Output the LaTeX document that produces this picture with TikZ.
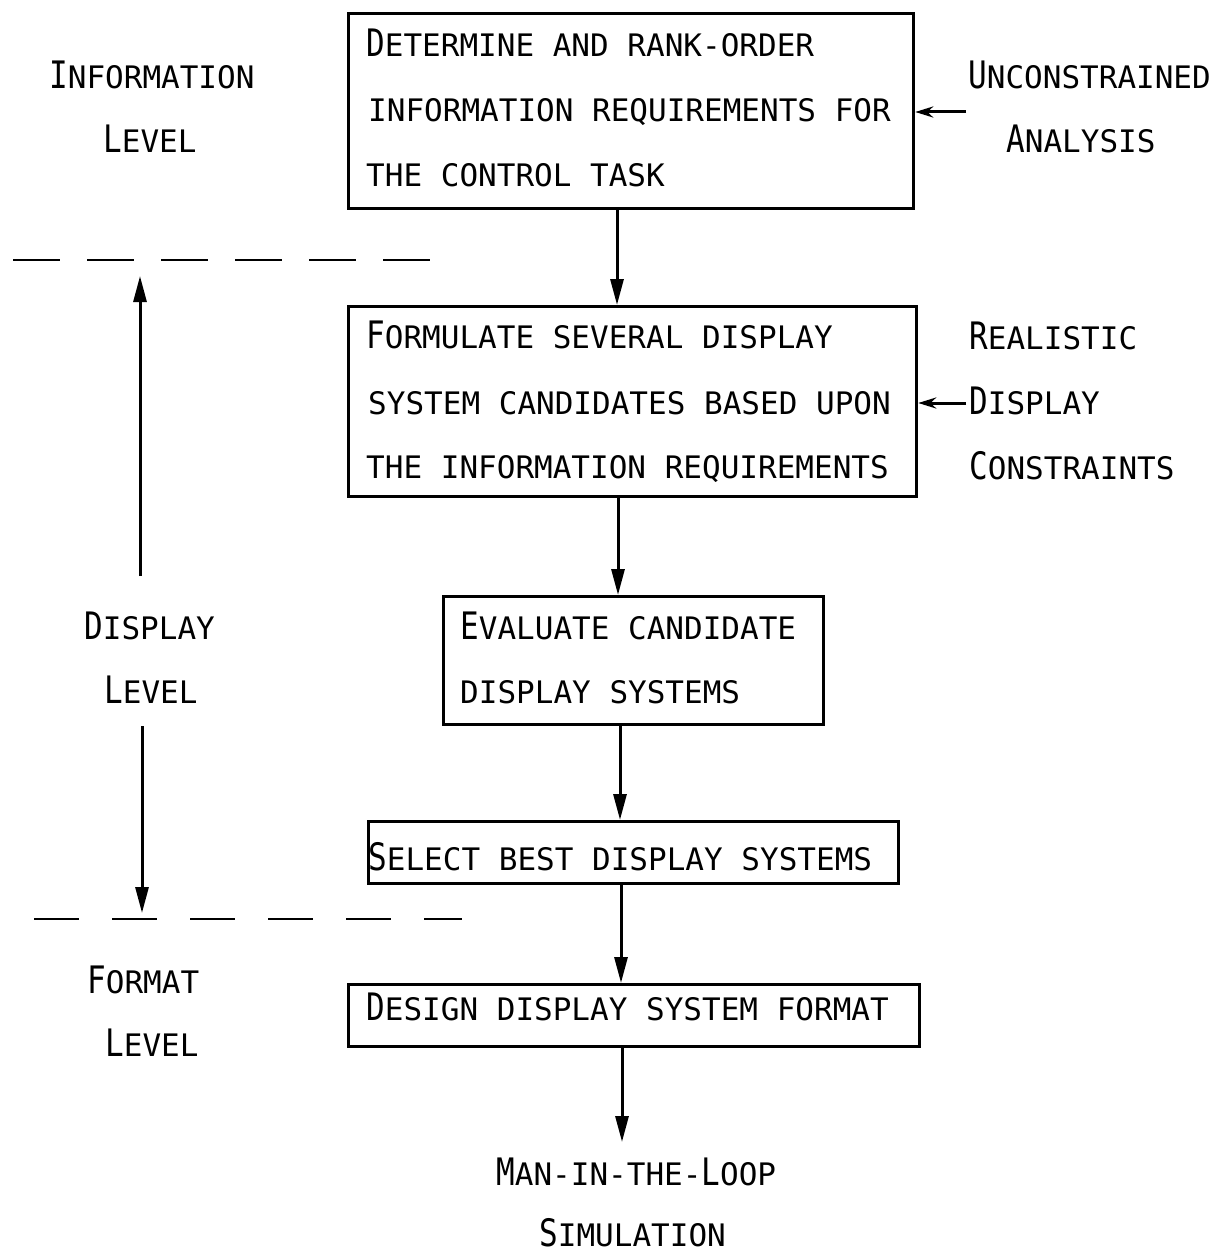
\documentclass[tikz,border=0pt]{standalone}
\usepackage{graphicx}
\usepackage{fontspec}
\setmonofont{DejaVu Sans Mono}
\usetikzlibrary{arrows.meta}
\newcommand{\Bc}[1]{\scalebox{1}[1.22]{#1}}
\begin{document}
\begin{tikzpicture}[x=1pt,y=-1pt,
  font=\fontsize{31}{31}\selectfont\ttfamily,
  box/.style={draw, line width=3.2pt, inner sep=0pt, anchor=north west},
  txt/.style={anchor=base west, inner sep=0pt},
  arr/.style={line width=3pt, -{Triangle[length=26pt,width=13pt]}},
  sarr/.style={line width=3pt, -{Stealth[length=18pt,width=11pt]}},
  dsh/.style={line width=2.6pt, dash pattern=on 47pt off 27pt},
  dshb/.style={line width=2.6pt, dash pattern=on 45pt off 33pt}]
\useasboundingbox (0,0) rectangle (1223,1257);

% boxes
\node[box, minimum width=565pt, minimum height=195pt] (b1) at (347,12) {};
\node[box, minimum width=568pt, minimum height=190pt] (b2) at (347,305) {};
\node[box, minimum width=380pt, minimum height=128pt] (b3) at (442,595) {};
\node[box, minimum width=530pt, minimum height=62pt] (b4) at (367,820) {};
\node[box, minimum width=571pt, minimum height=62pt] (b5) at (347,983) {};

% box texts
\node[txt] (t11) at (366,57) {\Bc{D}ETERMINE AND RANK-ORDER};
\node[txt] (t12) at (368,122) {INFORMATION REQUIREMENTS FOR};
\node[txt] (t13) at (366,187) {THE CONTROL TASK};
\node[txt] (t21) at (366,348) {\Bc{F}ORMULATE SEVERAL DISPLAY};
\node[txt] (t22) at (368,414) {SYSTEM CANDIDATES BASED UPON};
\node[txt] (t23) at (366,478) {THE INFORMATION REQUIREMENTS};
\node[txt] (t31) at (460,639) {\Bc{E}VALUATE CANDIDATE};
\node[txt] (t32) at (460,703) {DISPLAY SYSTEMS};
\node[txt] (t41) at (368,870) {\Bc{S}ELECT BEST DISPLAY SYSTEMS};
\node[txt] (t51) at (366,1020) {\Bc{D}ESIGN DISPLAY SYSTEM FORMAT};

% right labels
\node[txt] (r1) at (968,89) {\Bc{U}NCONSTRAINED};
\node[txt] (r2) at (1006,153) {\Bc{A}NALYSIS};
\node[txt] (r3) at (969,349) {\Bc{R}EALISTIC};
\node[txt] (r4) at (969,414) {\Bc{D}ISPLAY};
\node[txt] (r5) at (969,479) {\Bc{C}ONSTRAINTS};

% left labels
\node[txt] (l1) at (49,89) {\Bc{I}NFORMATION};
\node[txt] (l2) at (103,153) {\Bc{L}EVEL};
\node[txt] (l3) at (84,639) {\Bc{D}ISPLAY};
\node[txt] (l4) at (104,703) {\Bc{L}EVEL};
\node[txt] (l5) at (87,993) {\Bc{F}ORMAT};
\node[txt] (l6) at (105,1056) {\Bc{L}EVEL};

% bottom label
\node[txt] (m1) at (496,1185) {\Bc{M}AN-IN-THE-\Bc{L}OOP};
\node[txt] (m2) at (539,1246) {\Bc{S}IMULATION};

% guide coordinates
\coordinate (x1) at (617,0);
\coordinate (x2) at (618,0);
\coordinate (x3) at (620,0);
\coordinate (x4) at (621,0);
\coordinate (x5) at (622,0);
\coordinate (end5) at (622,1142);
\coordinate (sa1) at (966,112);
\coordinate (sa2) at (966,403);
\coordinate (up0) at (140,576);
\coordinate (up1) at (140,276);
\coordinate (dn0) at (142,726);
\coordinate (dn1) at (142,913);
\coordinate (d1a) at (13,260);
\coordinate (d1b) at (434,260);
\coordinate (d2a) at (34,919);
\coordinate (d2b) at (462,919);

% flow arrows
\draw[arr] (b1.south -| x1) -- (b2.north -| x1);
\draw[arr] (b2.south -| x2) -- (b3.north -| x2);
\draw[arr] (b3.south -| x3) -- (b4.north -| x3);
\draw[arr] (b4.south -| x4) -- (b5.north -| x4);
\draw[arr] (b5.south -| x5) -- (end5);

% side arrows
\draw[sarr] (sa1) -- (sa1 -| b1.east);
\draw[sarr] (sa2) -- (sa2 -| b2.east);

% level arrows
\draw[arr] (up0) -- (up1);
\draw[arr] (dn0) -- (dn1);

% dashed separators
\draw[dsh] (d1a) -- (d1b);
\draw[dshb] (d2a) -- (d2b);
\end{tikzpicture}
\end{document}
